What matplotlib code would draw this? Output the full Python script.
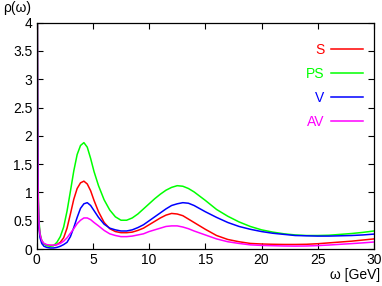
import numpy as np
import matplotlib
matplotlib.use("Agg")
import matplotlib.pyplot as plt

plt.rcParams['font.family'] = ['Liberation Sans Narrow', 'Liberation Sans', 'DejaVu Sans']

# omega grid [GeV] and spectral functions
omega = [0.02, 0.05, 0.08, 0.12, 0.16, 0.2, 0.3, 0.45, 0.65, 0.9, 1.2, 1.5, 1.8, 2.1,
         2.4, 2.7, 3.0, 3.3, 3.6, 3.9, 4.2, 4.5, 4.8, 5.1, 5.5, 6.0, 6.5, 7.0, 7.5,
         8.0, 8.5, 9.0, 9.5, 10, 10.5, 11, 11.5, 12, 12.5, 13, 13.5, 14, 15, 16, 17,
         18, 19, 20, 21, 22, 23, 24, 25, 26, 27, 28, 29, 30]

rho_S = [20, 5.0, 2.4, 1.15, 0.65, 0.42, 0.24, 0.14, 0.09, 0.07, 0.065, 0.065, 0.08, 0.12,
         0.20, 0.37, 0.62, 0.88, 1.07, 1.17, 1.20, 1.15, 1.03, 0.86, 0.66, 0.47, 0.36, 0.31, 0.29,
         0.29, 0.30, 0.33, 0.37, 0.43, 0.49, 0.55, 0.60, 0.63, 0.62, 0.59, 0.53, 0.47, 0.35, 0.24, 0.17,
         0.13, 0.10, 0.09, 0.085, 0.082, 0.082, 0.085, 0.095, 0.11, 0.125, 0.14, 0.16, 0.18]

rho_PS = [20, 5.5, 2.8, 1.4, 0.8, 0.52, 0.28, 0.15, 0.09, 0.06, 0.05, 0.06, 0.12, 0.22,
          0.39, 0.67, 1.02, 1.38, 1.67, 1.83, 1.88, 1.80, 1.60, 1.37, 1.12, 0.87, 0.69, 0.57, 0.51,
          0.51, 0.55, 0.62, 0.71, 0.80, 0.89, 0.97, 1.04, 1.09, 1.12, 1.11, 1.07, 1.01, 0.86, 0.70, 0.58,
          0.48, 0.40, 0.34, 0.30, 0.27, 0.25, 0.24, 0.24, 0.245, 0.26, 0.275, 0.295, 0.32]

rho_V = [20, 4.8, 2.3, 1.1, 0.6, 0.38, 0.2, 0.1, 0.05, 0.03, 0.02, 0.02, 0.03, 0.05,
         0.08, 0.12, 0.22, 0.38, 0.56, 0.72, 0.80, 0.82, 0.77, 0.68, 0.56, 0.44, 0.37, 0.34, 0.32,
         0.32, 0.34, 0.38, 0.43, 0.50, 0.57, 0.64, 0.71, 0.77, 0.80, 0.82, 0.81, 0.77, 0.66, 0.56, 0.47,
         0.40, 0.35, 0.31, 0.28, 0.26, 0.24, 0.235, 0.23, 0.23, 0.235, 0.24, 0.25, 0.265]

rho_AV = [20, 5.0, 2.4, 1.15, 0.68, 0.45, 0.26, 0.15, 0.1, 0.08, 0.07, 0.07, 0.08, 0.10,
          0.14, 0.20, 0.28, 0.36, 0.45, 0.51, 0.55, 0.55, 0.52, 0.47, 0.41, 0.33, 0.27, 0.24, 0.22,
          0.22, 0.23, 0.25, 0.27, 0.31, 0.34, 0.37, 0.40, 0.41, 0.41, 0.39, 0.36, 0.32, 0.25, 0.18, 0.13,
          0.10, 0.075, 0.065, 0.06, 0.055, 0.053, 0.055, 0.062, 0.072, 0.085, 0.097, 0.11, 0.125]

labels = ["S", "PS", "V", "AV"]
colors = ["#ff0000", "#00ff00", "#0000ff", "#ff00ff"]

fig = plt.figure(figsize=(3.82, 2.86), dpi=100)
ax = fig.add_axes([0.096, 0.129, 0.883, 0.792])

for rho, lab, c in zip([rho_S, rho_PS, rho_V, rho_AV], labels, colors):
    ax.plot(omega, rho, color=c, lw=1.1, label=lab)

ax.set_xlim(0, 30)
ax.set_ylim(0, 4)
ax.set_xticks([0, 5, 10, 15, 20, 25, 30])
ax.set_yticks([0, 0.5, 1, 1.5, 2, 2.5, 3, 3.5, 4])
ax.set_yticklabels(["0", "0.5", "1", "1.5", "2", "2.5", "3", "3.5", "4"])
ax.tick_params(direction='in', top=True, right=True, length=4, width=0.8,
               labelsize=10, pad=3)
for s in ax.spines.values():
    s.set_linewidth(0.9)

fig.text(0.008, 0.972, "ρ(ω)", fontsize=10, ha='left', va='center')
fig.text(0.995, 0.038, "ω [GeV]", fontsize=10, ha='right', va='center')

ax.legend(loc='upper right', bbox_to_anchor=(0.968, 0.91), markerfirst=False,
          labelcolor='linecolor', frameon=False, fontsize=10, handlelength=2.3,
          labelspacing=0.72, handletextpad=0.5, borderpad=0, borderaxespad=0)

fig.savefig("out.png", dpi=100)
